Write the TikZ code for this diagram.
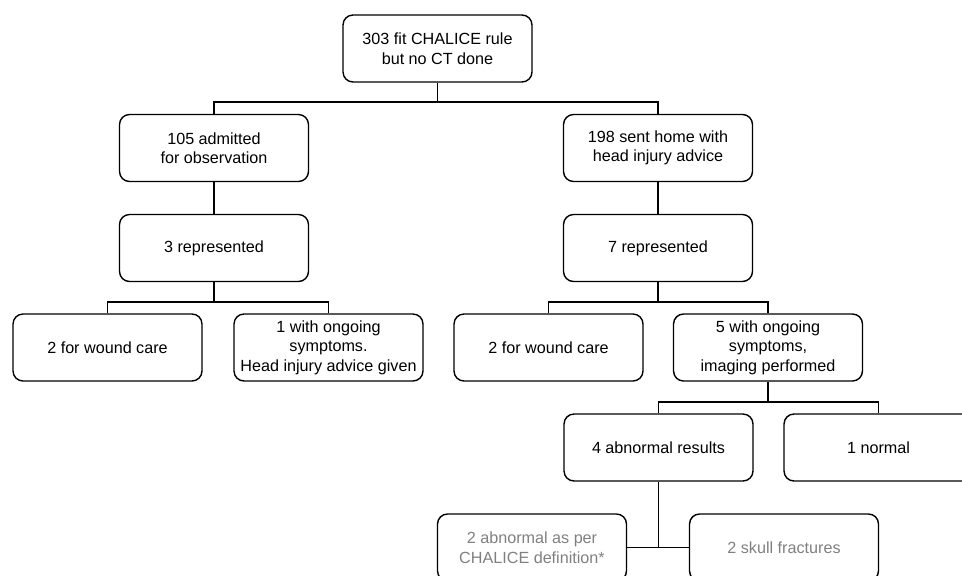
\documentclass[tikz,border=0pt]{standalone}
\usepackage{fontspec}
\setmainfont{Liberation Sans}
\begin{document}
\begin{tikzpicture}[x=0.02cm,y=-0.02cm,
box/.style={draw,line width=0.8pt,rounded corners=0.2cm,minimum width=3.78cm,minimum height=1.34cm,align=center,inner sep=1pt,font=\fontsize{9.2}{11.1}\selectfont},
greybox/.style={box,text=black!50},
link/.style={line width=0.8pt}]
\useasboundingbox(0,0)rectangle(962,575);
\clip(0,0)rectangle(962,575);
\node[box](top)at(437.5,48.5){303 fit CHALICE rule\\but no CT done};
\node[box](admit)at(214,148){105 admitted\\for observation};
\node[box](home)at(658,148){198 sent home with\\head injury advice};
\node[box](rep3)at(214,248){3 represented};
\node[box](rep7)at(658,248){7 represented};
\node[box](woundA)at(107.5,347.5){2 for wound care};
\node[box](ongoingA)at(328.5,347.5){1 with ongoing\\symptoms.\\Head injury advice given};
\node[box](woundB)at(548.5,347.5){2 for wound care};
\node[box](ongoingB)at(768,347.5){5 with ongoing\\symptoms,\\imaging performed};
\node[box](abnormal)at(658.5,447.5){4 abnormal results};
\node[box](normal)at(878.5,447.5){1 normal};
\node[greybox](chalice)at(532,547.5){2 abnormal as per\\CHALICE definition*};
\node[greybox](skull)at(784,547.5){2 skull fractures};
% junctions
\coordinate(j1)at(437.5,102);
\coordinate(j2)at(214,302);
\coordinate(j3)at(658,302);
\coordinate(j4)at(768,402);
\draw[link](top)--(j1)-|(admit);
\draw[link](j1)-|(home);
\draw[link](admit)--(rep3);
\draw[link](home)--(rep7);
\draw[link](rep3)--(j2)-|(woundA);
\draw[link](j2)-|(ongoingA);
\draw[link](rep7)--(j3)-|(woundB);
\draw[link](j3)-|(ongoingB);
\draw[link](ongoingB)--(j4)-|(abnormal);
\draw[link](j4)-|(normal);
\draw[link](abnormal.south)--(abnormal.south|-chalice.east);
\draw[link](chalice.east)--(skull.west);
\end{tikzpicture}
\end{document}
